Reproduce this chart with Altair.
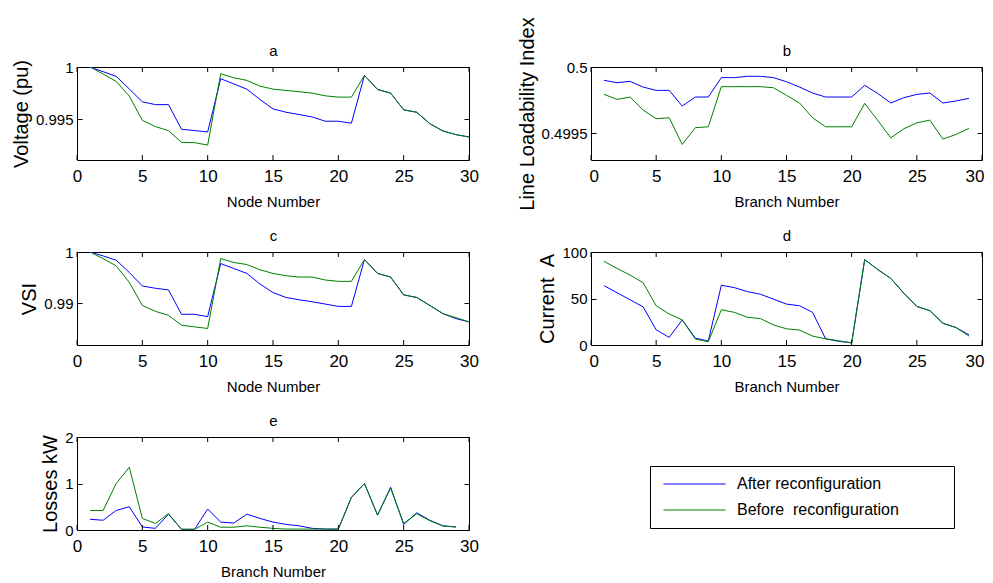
import altair as alt
import pandas as pd

FONT = "Liberation Sans"
S_AFTER = "After reconfiguration"
S_BEFORE = "Before  reconfiguration"
SERIES = [S_AFTER, S_BEFORE]
COLORS = ["#0000ff", "#008000"]

node = list(range(1, 31))
branch = list(range(1, 30))
x_ticks = [0, 5, 10, 15, 20, 25, 30]

volt_after = [1.0000, 0.99955, 0.9991, 0.9979, 0.99667, 0.99640, 0.99640, 0.99404, 0.99392, 0.99378,
              0.99888, 0.99838, 0.99788, 0.99690, 0.99599, 0.99567, 0.99545, 0.99522, 0.99481, 0.99481,
              0.99462, 0.99920, 0.99785, 0.99750, 0.99590, 0.99567, 0.99458, 0.99388, 0.99353, 0.99330]
volt_before = [1.0000, 0.99933, 0.99862, 0.99721, 0.99490, 0.99430, 0.99391, 0.99279, 0.99276, 0.99253,
               0.99936, 0.99897, 0.99872, 0.99817, 0.99788, 0.99776, 0.99763, 0.99750, 0.99724, 0.99712,
               0.99712, 0.99920, 0.99785, 0.99750, 0.99590, 0.99567, 0.99458, 0.99388, 0.99353, 0.99330]

lli_after = [0.499900, 0.499882, 0.499892, 0.499849, 0.499824, 0.499824, 0.499706, 0.499774, 0.499774, 0.499920,
             0.499920, 0.499930, 0.499930, 0.499920, 0.499889, 0.499849, 0.499804, 0.499774, 0.499774, 0.499774,
             0.499862, 0.499801, 0.499729, 0.499769, 0.499794, 0.499804, 0.499729, 0.499744, 0.499764]
lli_before = [0.499794, 0.499756, 0.499774, 0.499676, 0.499611, 0.499618, 0.499417, 0.499543, 0.499550, 0.499852,
              0.499852, 0.499852, 0.499852, 0.499844, 0.499786, 0.499729, 0.499618, 0.499550, 0.499550, 0.499550,
              0.499726, 0.499598, 0.499467, 0.499535, 0.499580, 0.499600, 0.499457, 0.499492, 0.499538]

vsi_after = [1.0, 0.99923, 0.99839, 0.9960, 0.99335, 0.9929, 0.99258, 0.98781, 0.98781, 0.98735,
             0.99774, 0.99677, 0.99581, 0.99374, 0.99206, 0.9911, 0.99065, 0.99026, 0.98981, 0.98935,
             0.98935, 0.99852, 0.99581, 0.9951, 0.99161, 0.9911, 0.98955, 0.98794, 0.98697, 0.98632]
vsi_before = [1.0, 0.9987, 0.99729, 0.99406, 0.98955, 0.98839, 0.98761, 0.98568, 0.98535, 0.98503,
              0.99871, 0.99794, 0.99755, 0.99652, 0.99581, 0.99535, 0.9951, 0.9951, 0.99452, 0.99426,
              0.99426, 0.99852, 0.99581, 0.9951, 0.99161, 0.9911, 0.98955, 0.98794, 0.98716, 0.98632]

cur_after = [63.8, 56.2, 48.6, 41.0, 16.3, 8.2, 27.0, 7.4, 4.3, 64.2,
             61.7, 57.4, 54.6, 49.3, 44.0, 42.2, 35.1, 6.7, 3.9, 2.5,
             91.8, 81.2, 71.6, 55.7, 41.5, 36.9, 23.4, 18.8, 11.0]
cur_before = [90.0, 82.3, 75.2, 67.0, 42.2, 33.3, 27.0, 6.4, 3.5, 37.9,
              35.1, 29.8, 28.4, 21.6, 17.4, 16.0, 9.6, 6.7, 4.6, 2.1,
              91.8, 81.2, 71.6, 55.7, 41.5, 36.9, 23.4, 18.8, 9.6]

loss_after = [0.23, 0.21, 0.42, 0.50, 0.065, 0.035, 0.34, 0.015, 0.015, 0.45,
              0.17, 0.15, 0.34, 0.25, 0.17, 0.12, 0.09, 0.035, 0.02, 0.02,
              0.70, 1.0, 0.32, 0.92, 0.12, 0.37, 0.21, 0.09, 0.065]
loss_before = [0.42, 0.42, 1.0, 1.35, 0.25, 0.14, 0.35, 0.015, 0.015, 0.17,
               0.06, 0.06, 0.09, 0.06, 0.035, 0.02, 0.02, 0.02, 0.02, 0.02,
               0.70, 1.0, 0.32, 0.90, 0.14, 0.35, 0.20, 0.085, 0.065]

WL, WR, H = 392, 391, 93
TK = 5
NBSP = "\u00a0"
ZWSP = "\u200b"


def panel(xs, after, before, title, xtitle, ytitle, ydomain, yticks, W, flush=False, legend=None):
    df = pd.DataFrame({
        "x": xs + xs,
        "y": after + before,
        "s": [S_AFTER] * len(xs) + [S_BEFORE] * len(xs),
    })
    xscale = alt.Scale(domain=[0, 30], nice=False, zero=False)
    yscale = alt.Scale(domain=ydomain, nice=False, zero=False)
    if flush:
        xaxis = alt.Axis(values=x_ticks, title=xtitle, format="~r",
                         labelFlush=True, labelFlushOffset=2)
    else:
        xaxis = alt.Axis(values=x_ticks, title=xtitle, format="~r", labelFlush=False)
    topaxis = alt.Axis(orient="top", values=x_ticks, title=title, labels=False, ticks=False,
                       domain=False, grid=False, titlePadding=9, titleFontSize=15)
    # left axis draws inward ticks itself (negative offset moves it inside the frame)
    yaxis = alt.Axis(values=yticks, title=ytitle, format="~r", ticks=True, tickSize=TK,
                     tickColor="black", offset=-TK, labelPadding=4)
    raxis = alt.Axis(orient="right", values=yticks, title=None, labels=False, ticks=True,
                     tickSize=TK, tickColor="black", offset=-TK, domain=False, grid=False)
    color = alt.Color("s:N", scale=alt.Scale(domain=SERIES, range=COLORS),
                      legend=legend, sort=SERIES)
    lines = alt.Chart(df).mark_line(strokeWidth=1, clip=True).encode(
        x=alt.X("x:Q", scale=xscale, axis=xaxis),
        y=alt.Y("y:Q", scale=yscale, axis=yaxis),
        color=color,
    )
    right = alt.Chart(df).mark_line(strokeWidth=1, opacity=0, clip=True).encode(
        x=alt.X("x:Q", scale=xscale, axis=None),
        y=alt.Y("y:Q", scale=yscale, axis=raxis),
        detail="s:N",
    )
    xt = pd.DataFrame({"t": x_ticks})
    tb = alt.Chart(xt).mark_rule(color="black", strokeWidth=1).encode(
        x=alt.X("t:Q", scale=xscale, axis=None), y=alt.value(H), y2=alt.value(H - TK))
    tt = alt.Chart(xt).mark_rule(color="black", strokeWidth=1).encode(
        x=alt.X("t:Q", scale=xscale, axis=topaxis), y=alt.value(0), y2=alt.value(TK))
    return alt.layer(lines, tb, tt, right).resolve_axis(
        x="independent", y="independent").properties(width=W, height=H)


legend_e = alt.Legend(
    orient="none", legendX=573, legendY=29, title=None,
    symbolType="stroke", symbolSize=3844, symbolStrokeWidth=1, symbolOffset=3,
    clipHeight=16, rowPadding=10, padding=10,
    labelFontSize=16, labelFont=FONT, labelColor="black", labelOffset=11, labelLimit=500,
    labelExpr="replace(datum.label, '  ', '" + NBSP + " ') + '" + NBSP * 10 + ZWSP + "'",
    strokeColor="black", fillColor="white",
)

pa = panel(node, volt_after, volt_before, "a", "Node Number", "Voltage (pu)",
           [0.9911, 1.0], [0.995, 1.0], WL)
pb = panel(branch, lli_after, lli_before, "b", "Branch Number", "Line Loadability Index",
           [0.4993, 0.5], [0.4995, 0.5], WR, flush=True)
pc = panel(node, vsi_after, vsi_before, "c", "Node Number", "VSI",
           [0.9818, 1.0], [0.99, 1.0], WL)
pd_ = panel(branch, cur_after, cur_before, "d", "Branch Number", "Current" + NBSP + " A",
            [0, 100], [0, 50, 100], WR, flush=True)
pe = panel(branch, loss_after, loss_before, "e", "Branch Number", "Losses kW",
           [0, 2], [0, 1, 2], WL, legend=legend_e)

chart = alt.concat(pa, pb, pc, pd_, pe, columns=2, spacing={"row": 92, "column": 122},
                   bounds="flush").resolve_scale(color="independent").properties(
    padding={"left": 2, "top": 8, "right": 0, "bottom": 0}
).configure_view(
    stroke="black", strokeWidth=1
).configure_axis(
    grid=False, domain=False, ticks=False, tickSize=0,
    labelFont=FONT, labelColor="black",
    titleFont=FONT, titleColor="black", titleFontWeight="normal",
).configure_axisX(
    labelFontSize=17, labelPadding=8, titleFontSize=15, titlePadding=10,
).configure_axisY(
    labelFontSize=15, titleFontSize=20, titlePadding=4,
)

chart.save("out.html", embed_options={"renderer": "svg", "actions": False})
